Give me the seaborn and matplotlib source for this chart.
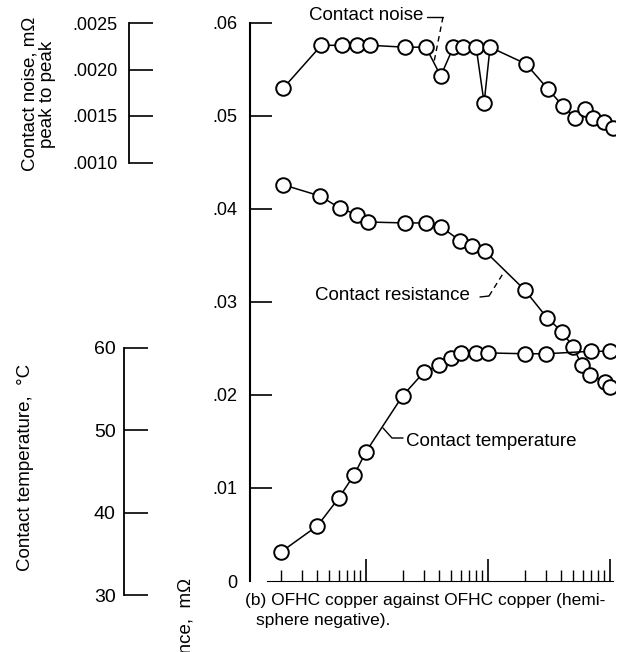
import numpy as np
import pandas as pd
import matplotlib
matplotlib.use("Agg")
import matplotlib.pyplot as plt
from matplotlib.lines import Line2D
import seaborn as sns

# Values (x is log scale, no units printed)
noise_x = [2.1, 4.3, 6.4, 8.5, 10.8, 21, 31, 41, 52, 63, 80, 93, 104, 205, 310, 410, 520, 630, 730, 900, 1050]
noise_mohm = [0.00180, 0.00226, 0.00226, 0.00226, 0.00226, 0.00224, 0.00224, 0.00193, 0.00224, 0.00224,
              0.00224, 0.00164, 0.00224, 0.00206, 0.00179, 0.00161, 0.00148, 0.00158, 0.00148, 0.00144, 0.00137]

resist_x = [2.1, 4.2, 6.1, 8.4, 10.4, 21, 31, 41, 59, 74, 94, 200, 305, 404, 497, 590, 686, 910, 1000]
resist_mohm = [0.0426, 0.0414, 0.0401, 0.0394, 0.0386, 0.0385, 0.0385, 0.0381, 0.0366, 0.0360,
               0.0355, 0.0313, 0.0283, 0.0268, 0.0252, 0.0232, 0.0222, 0.0214, 0.0209]

temp_x = [2, 4, 6, 8, 10, 20, 30, 40, 50, 60, 80, 100, 200, 300, 700, 1000]
temp_c = [35.2, 38.4, 41.8, 44.6, 47.4, 54.2, 57.1, 57.9, 58.8, 59.4, 59.4, 59.4, 59.3, 59.3, 59.6, 59.6]

resist_ticks = [0, 0.01, 0.02, 0.03, 0.04, 0.05, 0.06]
resist_labels = ["0", ".01", ".02", ".03", ".04", ".05", ".06"]
noise_ticks = [0.0010, 0.0015, 0.0020, 0.0025]
noise_labels = [".0010", ".0015", ".0020", ".0025"]
temp_ticks = [30, 40, 50, 60]

sns.set_style("white")
plt.rcParams["font.family"] = ["Liberation Sans", "DejaVu Sans"]
plt.rcParams["text.color"] = "black"
plt.rcParams["xtick.color"] = "black"
plt.rcParams["ytick.color"] = "black"
plt.rcParams["axes.edgecolor"] = "black"

W, H = 622, 652
fig = plt.figure(figsize=(W / 100, H / 100), dpi=100)


def rect(x0, y0, x1, y1):
    return [x0 / W, 1 - y1 / H, (x1 - x0) / W, (y1 - y0) / H]


def fx(x, y):
    return x / W, 1 - y / H


# main axes (contact resistance scale)
ax = fig.add_axes(rect(250, 23, 615, 581))
ax_n = ax.twinx()
ax_t = ax.twinx()

line_kw = dict(color="black", linewidth=1.1, marker="o", markersize=10.5,
               markerfacecolor="white", markeredgecolor="black", markeredgewidth=1.4,
               sort=False, estimator=None, legend=False)
sns.lineplot(x=noise_x, y=noise_mohm, ax=ax_n, **line_kw)
sns.lineplot(x=resist_x, y=resist_mohm, ax=ax, **line_kw)
sns.lineplot(x=temp_x, y=temp_c, ax=ax_t, **line_kw)

ax.set_xscale("log")
ax.set_xlim(1.12, 1100)
ax.set_ylim(0, 0.06)
ax_n.set_ylim(-0.0035, 0.0025)
ax_t.set_ylim(31.70, 99.47)
ax_n.set_axis_off()
ax_t.set_axis_off()

for s in ["top", "right"]:
    ax.spines[s].set_visible(False)
ax.spines["left"].set_linewidth(1.5)
ax.spines["bottom"].set_linewidth(0.8)
ax.spines["bottom"].set_bounds(1.55, 1060)
ax.set_yticks(resist_ticks)
ax.set_yticklabels(resist_labels, fontsize=13)
ax.tick_params(axis="y", left=True, direction="in", length=16, width=1.2, pad=9)
ax.yaxis.get_major_ticks()[0].tick1line.set_visible(False)
ax.set_xticks([10, 100, 1000])
ax.set_xticklabels([])
ax.tick_params(axis="x", which="major", bottom=True, direction="in", length=16, width=1.2)
ax.tick_params(axis="x", which="minor", bottom=True, direction="in", length=8, width=1.0,
               labelbottom=False)
ax.set_xlabel("")
ax.set_ylabel("")

# left scale: noise
ax_ns = fig.add_axes(rect(129, 23, 160, 162.5))
ax_ns.set_ylim(0.0010, 0.0025)
ax_ns.patch.set_visible(False)
for s in ["top", "right", "bottom"]:
    ax_ns.spines[s].set_visible(False)
ax_ns.spines["left"].set_linewidth(1.3)
ax_ns.set_xticks([])
ax_ns.set_yticks(noise_ticks)
ax_ns.set_yticklabels(noise_labels, fontsize=13)
ax_ns.tick_params(axis="y", left=True, direction="in", length=17, width=1.2, pad=8)

# left scale: temperature
ax_ts = fig.add_axes(rect(124, 348, 160, 595))
ax_ts.set_ylim(30, 60)
ax_ts.patch.set_visible(False)
for s in ["top", "right", "bottom"]:
    ax_ts.spines[s].set_visible(False)
ax_ts.spines["left"].set_linewidth(1.3)
ax_ts.set_xticks([])
ax_ts.set_yticks(temp_ticks)
ax_ts.set_yticklabels([str(t) for t in temp_ticks], fontsize=14)
ax_ts.tick_params(axis="y", left=True, direction="in", length=17, width=1.2, pad=6)

# axis titles
fig.text(*fx(30, 94), "Contact noise, m\u03a9", rotation=90, ha="center", va="center", fontsize=13.5)
fig.text(*fx(48, 94), "peak to peak", rotation=90, ha="center", va="center", fontsize=13.5)
fig.text(*fx(26, 467), "Contact temperature,  \u00b0C", rotation=90, ha="center", va="center", fontsize=13.5)
fig.text(*fx(186, 578), "Contact resistance,  m\u03a9", rotation=90, ha="center", va="top", fontsize=13.5)

# curve labels with leaders
fig.text(*fx(423, 15), "Contact noise", ha="right", va="center", fontsize=13.5)
fig.text(*fx(470, 296), "Contact resistance", ha="right", va="center", fontsize=13.5)
fig.text(*fx(406, 441), "Contact temperature", ha="left", va="center", fontsize=13.5)
leaders = [
    ([427, 443], [17, 17], "-"),
    ([443, 434], [17, 62], (0, (4, 3))),
    ([480, 489], [297, 296], "-"),
    ([489, 504], [296, 272], (0, (4, 3))),
    ([383, 392, 403], [428, 438, 438], "-"),
]
for xs, ys, ls in leaders:
    pts = [fx(a, b) for a, b in zip(xs, ys)]
    fig.add_artist(Line2D([p[0] for p in pts], [p[1] for p in pts], transform=fig.transFigure,
                          color="black", linewidth=1.0, linestyle=ls))

# caption
fig.text(*fx(245, 601), "(b) OFHC copper against OFHC copper (hemi-", ha="left", va="center", fontsize=12.5)
fig.text(*fx(256, 620), "sphere negative).", ha="left", va="center", fontsize=12.5)

fig.savefig("out.png", dpi=100)
